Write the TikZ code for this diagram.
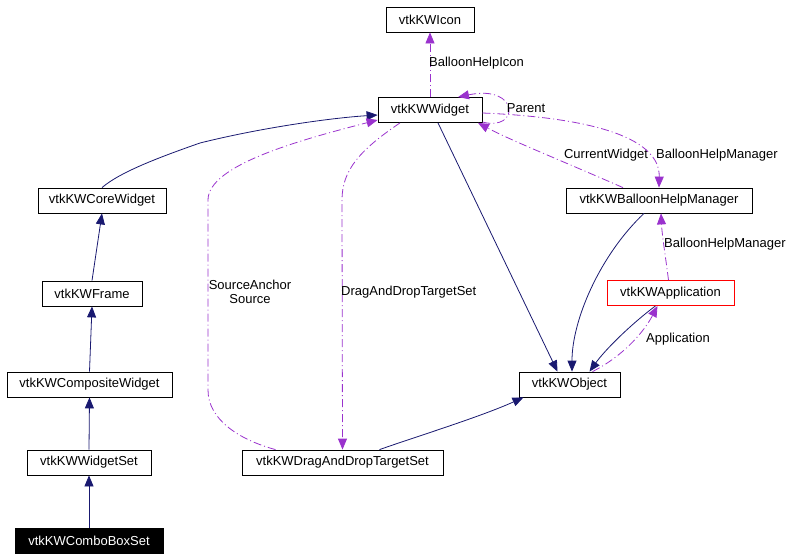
\documentclass[tikz,border=0pt]{standalone}
\usepackage{fontspec}
\setmainfont{Liberation Sans}
\usetikzlibrary{arrows.meta}
\definecolor{navyc}{HTML}{191970}
\definecolor{purpc}{HTML}{9A32CD}
\begin{document}
\begin{tikzpicture}[x=1pt,y=-1pt,
  font=\fontsize{13}{15}\selectfont,
  box/.style={draw=black, line width=0.8pt, minimum height=25pt, inner sep=0pt, fill=white},
  inh/.style={draw=navyc, line width=0.8pt, -{Triangle[length=11pt,width=9pt]}},
  use/.style={draw=purpc, line width=0.8pt, dash pattern=on 8pt off 3pt on 1pt off 3pt, -{Triangle[length=11pt,width=9pt]}},
  lbl/.style={inner sep=0pt, font=\fontsize{13}{14.5}\selectfont}]
\useasboundingbox (0,0) rectangle (811,557);

% nodes
\node[box, minimum width=88pt]  (icon)   at (430,19.5)  {vtkKWIcon};
\node[box, minimum width=104pt] (widget) at (430,110)   {vtkKWWidget};
\node[box, minimum width=128pt] (core)   at (102,200.5) {vtkKWCoreWidget};
\node[box, minimum width=100pt] (frame)  at (92,293.5)  {vtkKWFrame};
\node[box, minimum width=165pt] (comp)   at (89.5,384.5){vtkKWCompositeWidget};
\node[box, minimum width=124pt] (wset)   at (89,462.5)  {vtkKWWidgetSet};
\node[box, minimum width=148pt, fill=black, text=white] (combo) at (89,540.5) {vtkKWComboBoxSet};
\node[box, minimum width=201pt] (dnd)    at (342.5,462.5) {vtkKWDragAndDropTargetSet};
\node[box, minimum width=101pt] (object) at (569.5,384.5) {vtkKWObject};
\node[box, minimum width=127pt, draw=red] (app) at (670.5,293) {vtkKWApplication};
\node[box, minimum width=186pt] (bhm)    at (659,200.5) {vtkKWBalloonHelpManager};

% inheritance (solid)
\draw[inh] (core.north) .. controls (120,172) and (160,157) .. (200,143)
           .. controls (260,128) and (330,118) .. ([yshift=-5pt]widget.west);
\draw[inh] (frame.north) -- (core.south);
\draw[inh] (comp.north) -- (frame.south);
\draw[inh] (wset.north) -- (comp.south);
\draw[inh] (combo.north) -- (wset.south);
\draw[inh] ([xshift=8pt]widget.south) -- ([xshift=-12pt]object.north);
\draw[inh] ([xshift=37pt]dnd.north) .. controls (415,437) and (480,417) .. ([xshift=-46pt]object.south);
\draw[inh] ([xshift=-15pt]bhm.south) .. controls (600,255) and (572,320) .. ([xshift=2.5pt]object.north);
\draw[inh] ([xshift=-15pt]app.south) .. controls (630,325) and (605,350) .. ([xshift=20pt]object.north);

% usage (dashed)
\draw[use] (widget.north) -- (icon.south);
\node[lbl, anchor=west] (lbicon) at (429,63) {BalloonHelpIcon};

\draw[use] ([yshift=-12pt]widget.east) .. controls (520,132) and (520,84) .. ([xshift=28pt]widget.north);
\node[lbl] (lparent) at (526,108) {Parent};

\draw[use] ([xshift=-36pt]bhm.north) .. controls (560,160) and (510,140) .. ([xshift=48pt]widget.south);
\node[lbl] (lcw) at (606,155) {CurrentWidget};

\draw[use] ([yshift=-3pt]widget.east) .. controls (600,118) and (660,140) .. (bhm.north);
\node[lbl, anchor=west] (lbhm1) at (656,155) {BalloonHelpManager};

\draw[use] ([xshift=-2pt]app.north) .. controls (666,260) and (662,235) .. ([xshift=2pt]bhm.south);
\node[lbl, anchor=west] (lbhm2) at (664,244) {BalloonHelpManager};

\draw[use] ([xshift=23pt]object.north) .. controls (625,355) and (645,330) .. ([xshift=-13pt]app.south);
\node[lbl] (lapp) at (678,339) {Application};

\draw[use] ([xshift=-67pt]dnd.north) .. controls (240,440) and (208,420) .. (208,390)
           -- (208,200) .. controls (208,165) and (300,140) .. ([yshift=-10pt]widget.west);
\node[lbl, align=center] (lsrc) at (250,292) {SourceAnchor\\Source};

\draw[use] ([xshift=-30pt]widget.south) .. controls (360,150) and (342,170) .. (342,200) -- (dnd.north);
\node[lbl, anchor=west] (ldnd) at (341,292) {DragAndDropTargetSet};
\end{tikzpicture}
\end{document}
